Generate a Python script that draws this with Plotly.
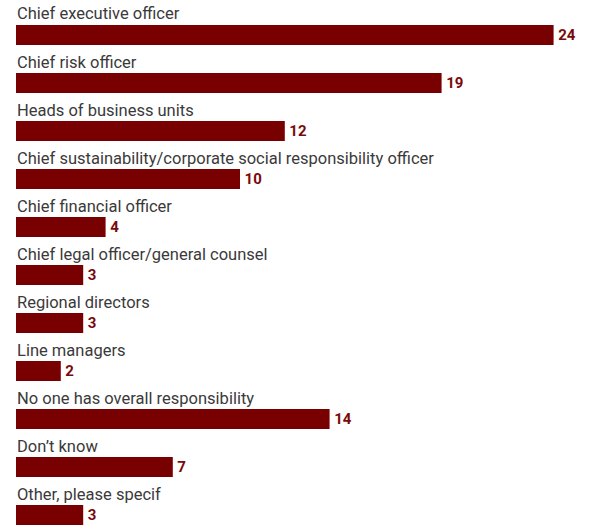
import plotly.graph_objects as go

categories = [
    "Chief executive officer",
    "Chief risk officer",
    "Heads of business units",
    "Chief sustainability/corporate social responsibility officer",
    "Chief financial officer",
    "Chief legal officer/general counsel",
    "Regional directors",
    "Line managers",
    "No one has overall responsibility",
    "Don\u2019t know",
    "Other, please specif",
]
values = [24, 19, 12, 10, 4, 3, 3, 2, 14, 7, 3]

BAR_COLOR = "#790000"
LABEL_COLOR = "#3a3a3a"
VALUE_COLOR = "#7a0a0a"

fig = go.Figure(
    go.Bar(
        x=values,
        y=categories,
        orientation="h",
        marker=dict(color=BAR_COLOR, line=dict(width=0)),
        width=0.42,
        text=values,
        texttemplate="\u200a%{text}",
        textposition="outside",
        textfont=dict(family="Roboto", size=15, color=VALUE_COLOR, weight="bold"),
        cliponaxis=False,
        hoverinfo="skip",
    )
)

# category names sit just above each bar
for cat in categories:
    fig.add_annotation(
        x=0, y=cat, xref="x", yref="y",
        text=cat, showarrow=False,
        xanchor="left", yanchor="middle", yshift=21, xshift=-1,
        font=dict(family="Roboto", size=16.5, color=LABEL_COLOR),
    )

fig.update_layout(
    width=589, height=525,
    margin=dict(l=0, r=0, t=0, b=0),
    paper_bgcolor="white", plot_bgcolor="white",
    showlegend=False,
    xaxis=dict(range=[-16 / 22.4, 573 / 22.4], visible=False, fixedrange=True),
    yaxis=dict(range=[10.208, -0.729], visible=False, fixedrange=True,
               categoryorder="array", categoryarray=categories),
    uniformtext=dict(mode=False),
)

fig.write_html("out.html")
